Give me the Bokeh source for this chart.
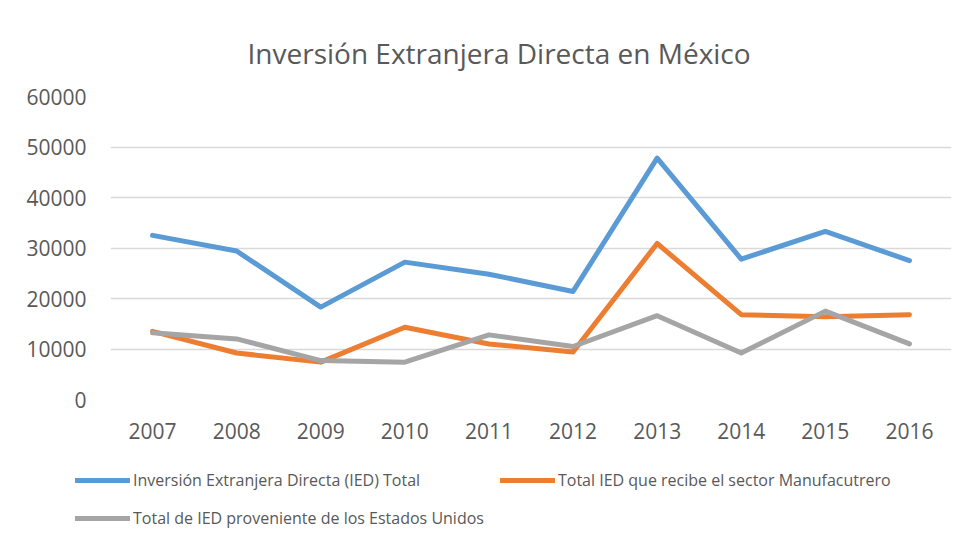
from bokeh.plotting import figure
from bokeh.layouts import column, row
from bokeh.models import Legend, LegendItem, FixedTicker, NumeralTickFormatter, Range1d
from bokeh.embed import file_html
from bokeh.resources import INLINE

years = ["2007", "2008", "2009", "2010", "2011", "2012", "2013", "2014", "2015", "2016"]
ied_total = [32500, 29400, 18300, 27200, 24800, 21400, 47800, 27800, 33300, 27500]
ied_manufactura = [13500, 9200, 7400, 14300, 11000, 9400, 30900, 16800, 16400, 16800]
ied_eeuu = [13200, 12000, 7700, 7400, 12800, 10500, 16600, 9200, 17500, 11000]
y_ticks = [0, 10000, 20000, 30000, 40000, 50000, 60000]

series_names = [
    "Inversión Extranjera Directa (IED) Total",
    "Total IED que recibe el sector Manufacutrero",
    "Total de IED proveniente de los Estados Unidos",
]
colors = ["#5B9BD5", "#ED7D31", "#A5A5A5"]
series = [ied_total, ied_manufactura, ied_eeuu]

FONT = "Open Sans"
TXT = "#595959"

p = figure(
    x_range=years,
    y_range=Range1d(0, 60000),
    width=960,
    height=450,
    output_backend="svg",
    toolbar_location=None,
    min_border_left=110,
    min_border_right=9,
    min_border_top=96,
    min_border_bottom=51,
    outline_line_color=None,
)

p.title.text = "Inversión Extranjera Directa en México"
p.title.align = "left"
p.title.text_font = FONT
p.title.text_font_size = "28px"
p.title.text_font_style = "normal"
p.title.text_color = TXT
p.title.offset = 137
p.title.standoff = 49

for vals, c in zip(series, colors):
    p.line(years, vals, line_color=c, line_width=5, line_join="round", line_cap="round")

p.yaxis.ticker = FixedTicker(ticks=y_ticks)
p.yaxis.formatter = NumeralTickFormatter(format="0")
for ax in (p.xaxis, p.yaxis):
    ax.axis_line_color = None
    ax.major_tick_line_color = None
    ax.minor_tick_line_color = None
    ax.major_label_text_font = FONT
    ax.major_label_text_font_size = "21px"
    ax.major_label_text_color = TXT
p.yaxis.major_label_standoff = 18
p.xaxis.major_label_standoff = 17

p.xgrid.grid_line_color = None
p.ygrid.grid_line_color = "#D9D9D9"
p.ygrid.grid_line_width = 1.5
p.ygrid.ticker = FixedTicker(ticks=y_ticks)

# legend strip below the chart (series drawn off-range; only their legend glyphs show)
pl = figure(
    width=960,
    height=90,
    x_range=years,
    y_range=Range1d(-2, -1),
    output_backend="svg",
    toolbar_location=None,
    min_border=0,
    outline_line_color=None,
)
pl.axis.visible = False
pl.grid.visible = False
legend_renderers = [
    pl.line(years, vals, line_color=c, line_width=5, line_cap="round")
    for vals, c in zip(series, colors)
]
legend = Legend(
    items=[LegendItem(label=n, renderers=[r]) for n, r in zip(series_names, legend_renderers)],
    location=(75, 11),
    orientation="horizontal",
    ncols=2,
    glyph_width=55,
    glyph_height=22,
    label_height=22,
    label_standoff=3,
    spacing=16,
    padding=0,
    margin=0,
    label_text_font=FONT,
    label_text_font_size="16px",
    label_text_color=TXT,
    background_fill_alpha=0,
    border_line_color=None,
)
pl.add_layout(legend, "center")

layout = column(p, row(pl, spacing=0), spacing=0)
open("out.html", "w").write(file_html(layout, INLINE))
